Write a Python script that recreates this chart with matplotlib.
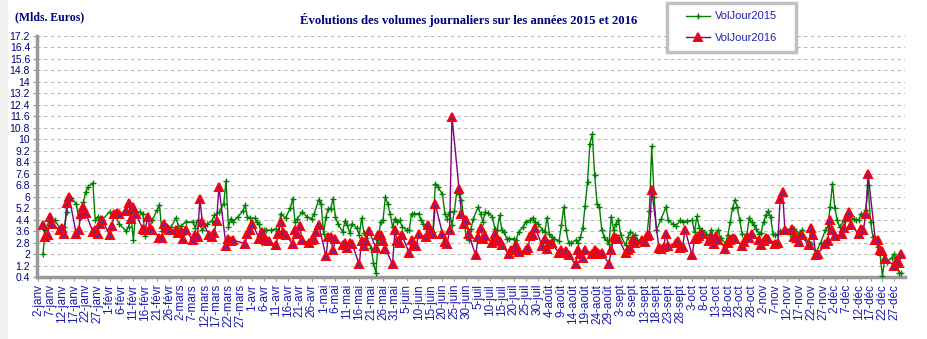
import datetime as dt
import matplotlib
matplotlib.use("Agg")
import matplotlib.pyplot as plt
from matplotlib.patches import Rectangle

# jour de l'annee 2016 (1 = 1er janvier) et volumes journaliers en milliards d'euros
jours_2016 = [4, 5, 6, 7, 8, 11, 12, 13, 14, 15, 18, 19, 20, 21, 22, 25, 26, 27, 28, 29,
              32, 33, 34, 35, 36, 39, 40, 41, 42, 43, 46, 47, 48, 49, 50, 53, 54, 55, 56, 57,
              60, 61, 62, 63, 64, 67, 68, 69, 70, 71, 74, 75, 76, 77, 78, 81, 82, 83, 84, 89,
              90, 91, 92, 95, 96, 97, 98, 99, 102, 103, 104, 105, 106, 109, 110, 111, 112, 113,
              116, 117, 118, 119, 120, 123, 124, 125, 126, 127, 130, 131, 132, 133, 134, 137,
              138, 139, 140, 141, 144, 145, 146, 147, 148, 151, 152, 153, 154, 155, 158, 159,
              160, 161, 162, 165, 166, 167, 168, 169, 172, 173, 174, 175, 176, 179, 180, 181,
              182, 183, 186, 187, 188, 189, 190, 193, 194, 195, 196, 197, 200, 201, 202, 203,
              204, 207, 208, 209, 210, 211, 214, 215, 216, 217, 218, 221, 222, 223, 224, 225,
              228, 229, 230, 231, 232, 235, 236, 237, 238, 239, 242, 243, 244, 245, 246, 249,
              250, 251, 252, 253, 256, 257, 258, 259, 260, 263, 264, 265, 266, 267, 270, 271,
              272, 273, 274, 277, 278, 279, 280, 281, 284, 285, 286, 287, 288, 291, 292, 293,
              294, 295, 298, 299, 300, 301, 302, 305, 306, 307, 308, 309, 312, 313, 314, 315,
              316, 319, 320, 321, 322, 323, 326, 327, 328, 329, 330, 333, 334, 335, 336, 337,
              340, 341, 342, 343, 344, 347, 348, 349, 350, 351, 354, 355, 356, 357, 358, 362,
              363, 364, 365]
vol_2016 = [4.0, 3.2, 3.35, 4.6, 4.1, 3.65, 3.85, 3.4, 5.55, 6.0, 3.4, 3.7, 4.8, 5.3, 4.85, 3.55, 3.7, 3.4, 4.1, 4.4,
            3.3, 3.95, 4.8, 4.85, 4.8, 5.0, 5.55, 4.45, 5.3, 4.8, 3.75, 3.7, 4.55, 3.85, 3.7, 3.15, 3.15, 4.1, 3.85, 3.65,
            3.7, 3.45, 3.6, 3.05, 3.7, 2.95, 3.3, 3.2, 5.85, 4.25, 3.3, 3.2, 3.47, 4.3, 6.7, 2.54, 3.07, 2.9, 2.96, 2.73,
            3.38, 3.66, 4.12, 3.07, 3.54, 3.14, 2.96, 2.9, 2.61, 3.38, 4.24, 3.54, 3.31, 2.73, 3.66, 3.42, 3.93, 2.96,
            2.77, 3.0, 3.07, 3.54, 4.0, 1.84, 3.19, 3.19, 2.26, 3.07, 2.61, 2.77, 2.45, 2.77, 2.73, 1.28,
            2.9, 2.54, 2.9, 3.61, 2.45, 3.31, 3.31, 2.9, 2.38, 1.28, 3.66, 2.9, 2.77, 3.31, 2.07, 2.96,
            2.61, 2.54, 3.38, 3.19, 4.0, 3.61, 3.38, 5.47, 3.42, 2.84, 2.73, 3.66, 11.56, 6.56, 4.82, 4.07,
            4.35, 3.38, 1.91, 3.19, 3.84, 3.07, 3.24, 2.77, 3.38, 3.0, 2.9, 2.61, 1.98, 2.26, 2.38, 2.61,
            2.14, 2.26, 2.45, 3.24, 3.31, 3.84, 2.54, 3.07, 2.38, 2.73, 2.77, 2.07, 2.26, 2.07, 2.21, 1.91,
            1.28, 2.26, 1.98, 1.75, 2.31, 2.03, 2.26, 2.14, 2.03, 2.07, 1.33, 2.26, 3.19, 3.14, 3.07, 2.07,
            2.26, 2.45, 3.07, 2.77, 2.96, 2.84, 3.24, 3.31, 6.49, 2.45, 2.38, 2.49, 3.42, 2.54, 2.77, 2.9,
            2.45, 2.49, 3.7, 1.91, 3.07, 3.14, 3.24, 3.42, 2.9, 3.19, 2.73, 3.24, 3.0, 2.38, 2.77, 2.96,
            3.14, 3.07, 2.54, 2.84, 3.19, 3.14, 3.38, 2.96, 2.61, 2.9, 3.14, 3.07, 2.73, 2.77, 5.86, 6.33,
            3.7, 3.77, 3.19, 3.14, 2.84, 3.31, 2.61, 3.84, 3.31, 1.91, 2.03, 2.73, 2.9, 4.35, 3.66, 3.24,
            3.42, 3.84, 4.59, 4.93, 4.0, 3.38, 3.77, 3.66, 4.82, 7.56, 3.0, 2.96, 2.31, 2.21, 1.68, 1.2,
            1.58, 1.35, 1.98]

jours_2015 = [4, 5, 7, 9, 11, 13, 14, 15, 16, 18, 19, 20, 21, 22, 23, 25, 26, 27, 28, 29,
              32, 34, 36, 39, 40, 41, 42, 43, 45, 46, 47, 48, 50, 52, 53, 54, 56, 58, 60, 61,
              62, 64, 67, 68, 69, 71, 73, 75, 76, 78, 80, 81, 82, 83, 84, 86, 88, 89, 90, 91,
              93, 94, 95, 96, 97, 98, 100, 102, 103, 104, 106, 108, 109, 110, 111, 113, 115, 117, 118, 120,
              121, 122, 123, 124, 125, 126, 127, 128, 130, 131, 132, 133, 134, 136, 137, 138, 139, 140, 142, 143,
              144, 145, 146, 147, 148, 149, 150, 151, 152, 153, 154, 155, 157, 158, 159, 160, 162, 163, 164, 165,
              167, 168, 169, 170, 172, 173, 174, 175, 176, 177, 178, 179, 180, 181, 182, 183, 184, 185, 187, 188,
              189, 190, 191, 193, 194, 195, 196, 197, 198, 199, 200, 202, 203, 204, 206, 207, 209, 210, 211, 212,
              214, 215, 216, 217, 218, 219, 221, 222, 223, 224, 225, 226, 228, 229, 230, 231, 232, 233, 234, 235,
              236, 237, 238, 239, 240, 241, 242, 243, 244, 245, 246, 247, 249, 250, 251, 253, 254, 256, 257, 258,
              259, 260, 261, 262, 264, 266, 267, 269, 270, 272, 273, 275, 277, 278, 279, 280, 281, 283, 284, 285,
              286, 288, 289, 291, 292, 293, 294, 295, 296, 297, 298, 300, 301, 302, 303, 304, 305, 306, 307, 308,
              309, 310, 311, 312, 313, 314, 316, 318, 319, 320, 322, 323, 324, 326, 327, 329, 331, 333, 334, 335,
              336, 337, 338, 339, 341, 343, 345, 346, 347, 348, 349, 350, 351, 352, 353, 354, 355, 356, 357, 358,
              359, 361, 362, 363, 364, 365]
vol_2015 = [1.98, 3.7, 4.47, 4.35, 3.84, 3.9, 4.9, 5.86, 5.9, 5.5, 4.5, 4.6, 5.6, 6.33, 6.7, 6.96, 4.35, 4.6, 4.5, 4.4,
            4.93, 4.8, 4.1, 3.6, 3.9, 4.9, 2.96, 4.9, 4.93, 4.8, 3.24, 3.6, 4.35, 5.1, 5.4, 3.6, 3.65, 3.9, 4.54, 3.93,
            3.93, 4.24, 4.24, 3.84, 4.35, 3.66, 4.1, 4.3, 4.7, 4.9, 5.5, 7.1, 3.9, 4.47, 4.24, 4.6, 5.0, 5.4, 4.6, 4.5,
            4.5, 4.24, 4.12, 2.77, 3.66, 3.66, 3.66, 3.77, 3.6, 4.82, 4.5, 5.2, 5.86, 4.24, 4.47, 4.93, 4.6, 4.47, 4.8, 5.79,
            5.5, 3.4, 4.6, 5.17, 5.17, 5.86, 4.6, 4.12, 3.55, 4.3, 4.0, 3.47, 4.12, 3.8, 3.31, 4.5, 3.47, 3.1, 2.4, 1.4,
            0.68, 3.0, 4.24, 4.35, 5.98, 5.5, 4.8, 3.9, 4.47, 4.2, 4.35, 3.9, 3.7, 3.66, 4.82, 4.82, 4.82, 4.35, 4.12, 3.84,
            3.7, 3.54, 6.91, 6.7, 6.16, 4.82, 4.47, 4.93, 4.0, 5.0, 6.33, 6.2, 5.75, 4.4, 3.2, 2.96, 3.77, 4.47, 5.28, 4.82,
            4.24, 4.93, 4.86, 4.6, 3.77, 3.66, 4.7, 3.66, 3.54, 3.07, 3.07, 3.07, 2.96, 3.54, 3.9, 4.24, 4.35, 4.54, 4.24, 4.12,
            3.7, 3.54, 4.54, 3.4, 3.19, 3.07, 2.9, 4.0, 5.28, 3.66, 2.8, 2.77, 2.96, 2.8, 3.19, 3.8, 5.38, 7.0, 9.7, 10.35,
            7.5, 5.51, 5.28, 3.7, 3.19, 2.96, 2.73, 4.6, 3.66, 4.12, 4.4, 3.3, 2.61, 3.19, 3.54, 3.31, 2.96, 2.96, 3.07, 3.31,
            5.0, 9.5, 6.0, 3.66, 4.47, 5.28, 4.35, 4.07, 3.93, 4.35, 4.24, 4.3, 4.35, 3.54, 4.63, 3.84, 3.7, 3.42, 3.19, 3.66,
            3.19, 3.66, 3.1, 2.73, 3.31, 4.24, 5.24, 5.75, 5.28, 4.35, 3.4, 3.31, 4.54, 4.2, 4.0, 3.77, 3.42, 3.5, 4.24, 4.7,
            5.0, 4.6, 3.4, 3.31, 3.4, 3.6, 3.66, 3.42, 3.77, 3.75, 3.42, 3.66, 3.19, 2.84, 2.73, 2.1, 2.77, 3.66, 3.9, 5.28,
            6.91, 5.2, 4.35, 3.9, 4.35, 4.59, 4.47, 4.35, 4.35, 4.82, 4.7, 5.05, 6.8, 4.24, 3.19, 2.96, 2.5, 2.0, 0.45, 1.68,
            1.45, 1.75, 1.98, 1.45, 0.68, 0.68]

mois = ["janv", "févr", "mars", "avr", "mai", "juin", "juil", "août", "sept", "oct", "nov", "déc"]
graduations_y = [0.4, 1.2, 2, 2.8, 3.6, 4.4, 5.2, 6, 6.8, 7.6, 8.4, 9.2, 10, 10.8, 11.6, 12.4,
                 13.2, 14, 14.8, 15.6, 16.4, 17.2]

# une etiquette tous les 5 jours, du 2 janvier au 27 decembre 2016
pos_x = []; etiq_x = []
d = dt.date(2016, 1, 2)
while d <= dt.date(2016, 12, 27):
    pos_x.append(d.timetuple().tm_yday)
    etiq_x.append(f"{d.day}-{mois[d.month-1]}")
    d += dt.timedelta(days=5)

fig = plt.figure(figsize=(9.27, 3.39), dpi=100)
fig.patches.append(Rectangle((0, 0), 7/927, 1, transform=fig.transFigure, color="#f0f0f0", zorder=0))
ax = fig.add_axes([37/927, 1-277/339, (905-37)/927, (277-36)/339])

ax.plot(jours_2015, vol_2015, color="#008000", lw=1.0, marker="+", ms=4, mew=1.0, label="VolJour2015", zorder=3)
ax.plot(jours_2016, vol_2016, color="#800080", lw=1.0, marker="^", ms=6, mfc="#7a1fa2", mec="red", mew=1.4,
        label="VolJour2016", zorder=4)

ax.set_xlim(1.5, 366.5)
ax.set_ylim(0.4, 17.2)
ax.set_yticks(graduations_y)
ax.set_yticklabels([f"{v:g}" for v in graduations_y], family="Liberation Sans", fontsize=7.5, color="#000080")
ax.set_xticks(pos_x)
ax.set_xticklabels(etiq_x, rotation=90, family="Liberation Sans", fontsize=8.5, color="#1a1ab0")
ax.yaxis.grid(True, color="#b8b8b8", linestyle=(0, (3, 3)), lw=0.8)
ax.set_axisbelow(True)
for s in ["top", "right"]:
    ax.spines[s].set_visible(False)
for s in ["left", "bottom"]:
    ax.spines[s].set_color("#999999"); ax.spines[s].set_linewidth(2.5)
ax.tick_params(axis="both", length=3, color="#999999", pad=2)

fig.text(15/927, 1-17/339, "(Mlds. Euros)", family="Liberation Serif", weight="bold", fontsize=8.5,
         color="#000080", va="center")
fig.text(469/927, 1-20/339, "Évolutions des volumes journaliers sur les années 2015 et 2016",
         family="Liberation Serif", weight="bold", fontsize=9.2, color="#000080", ha="center", va="center")

# cadre de la legende dessine a part pour garder la marge gauche large
fig.patches.append(Rectangle((667/927, 1-52/339), 129/927, 49/339, transform=fig.transFigure,
                             facecolor="white", edgecolor="#c0c0c0", lw=2.5, zorder=5))
leg = fig.legend(loc="center left", bbox_to_anchor=(686/927, 1-27/339), prop={"family": "Liberation Sans", "size": 8},
                 frameon=False, borderpad=0, labelspacing=1.0, handlelength=2.2, handletextpad=0.4, borderaxespad=0)
leg.set_zorder(6)
for t in leg.get_texts():
    t.set_color("#2020b0")

fig.savefig("out.png", dpi=100)
